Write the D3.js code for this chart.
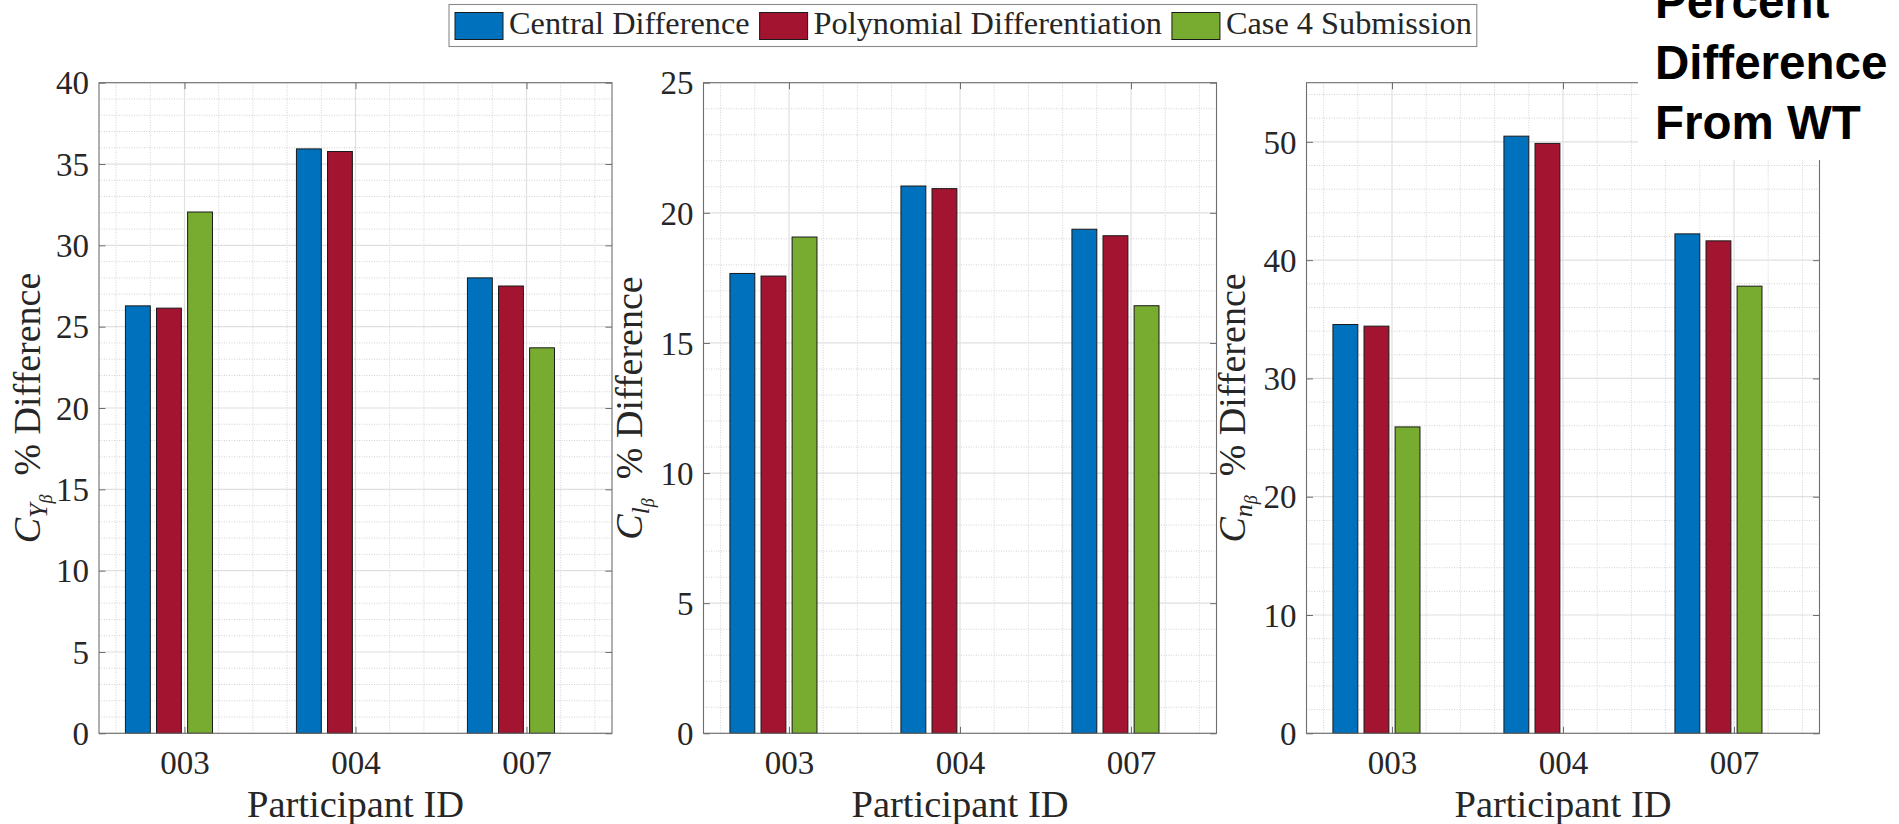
<!DOCTYPE html>
<html><head><meta charset="utf-8">
<script src="https://cdn.jsdelivr.net/npm/d3@7"></script>
<style>body{margin:0;background:#fff} svg{display:block}</style>
</head><body><svg id="c" width="1899" height="824"></svg>
<script>
// ---------------- data ----------------
const participants = ["003", "004", "007"];
const seriesNames = ["Central Difference", "Polynomial Differentiation", "Case 4 Submission"];
const seriesColors = ["#0072BD", "#A2142F", "#77AC30"];

const cyCentral = [26.28, 35.93, 28.00];
const cyPoly    = [26.14, 35.77, 27.50];
const cyCase4   = [32.05, null, 23.70];

const clCentral = [17.67, 21.03, 19.37];
const clPoly    = [17.57, 20.93, 19.12];
const clCase4   = [19.07, null, 16.43];

const cnCentral = [34.56, 50.48, 42.22];
const cnPoly    = [34.42, 49.87, 41.63];
const cnCase4   = [25.90, null, 37.80];

const cyTicks = [0, 5, 10, 15, 20, 25, 30, 35, 40];
const clTicks = [0, 5, 10, 15, 20, 25];
const cnTicks = [0, 10, 20, 30, 40, 50];
const cnMax = 55;

const xLabel = "Participant ID";
const titleLines = ["Percent", "Difference", "From WT"];

// ---------------- layout ----------------
const svg = d3.select("#c");
const serif = "'Liberation Serif','Times New Roman',serif";
const TOP = 82.7, BOTTOM = 733.3, PW = 513;
const slotCount = 4;                 // MATLAB grouping reserves 4 slots (4th empty)
const groupW = slotCount / (slotCount + 1.5);
const slot = groupW / slotCount;
const barW = slot * 0.8;
const tickLen = 6.5;

const panels = [
  {left: 99,    vals: [cyCentral, cyPoly, cyCase4], ticks: cyTicks, max: 40,    minor: 1, sub: "Y", labelX: 40},
  {left: 703.5, vals: [clCentral, clPoly, clCase4], ticks: clTicks, max: 25,    minor: 1, sub: "l", labelX: 642},
  {left: 1306.5,vals: [cnCentral, cnPoly, cnCase4], ticks: cnTicks, max: cnMax, minor: 2, sub: "n", labelX: 1245}
];

panels.forEach(p => {
  const x = d3.scaleLinear().domain([0.5, participants.length + 0.5]).range([p.left, p.left + PW]);
  const y = d3.scaleLinear().domain([0, p.max]).range([BOTTOM, TOP]);
  const g = svg.append("g");

  // minor grid
  const minorY = d3.range(0, p.max + 1e-9, p.minor).filter(v => !p.ticks.includes(v));
  const minorX = d3.range(0.6, participants.length + 0.5, 0.2).map(v => Math.round(v * 10) / 10).filter(v => Math.abs(v - Math.round(v)) > 1e-6);
  g.selectAll(".mny").data(minorY).join("line")
    .attr("x1", x.range()[0]).attr("x2", x.range()[1])
    .attr("y1", d => y(d)).attr("y2", d => y(d))
    .attr("stroke", "#d2d2d2").attr("stroke-width", 1).attr("stroke-dasharray", "1,1.5");
  g.selectAll(".mnx").data(minorX).join("line")
    .attr("x1", d => x(d)).attr("x2", d => x(d))
    .attr("y1", y.range()[0]).attr("y2", y.range()[1])
    .attr("stroke", "#d2d2d2").attr("stroke-width", 1).attr("stroke-dasharray", "1,1.5");
  // major grid
  g.selectAll(".mjy").data(p.ticks).join("line")
    .attr("x1", x.range()[0]).attr("x2", x.range()[1])
    .attr("y1", d => y(d)).attr("y2", d => y(d))
    .attr("stroke", "#e0e0e0").attr("stroke-width", 1.2);
  g.selectAll(".mjx").data(participants.map((d, i) => i + 1)).join("line")
    .attr("x1", d => x(d)).attr("x2", d => x(d))
    .attr("y1", y.range()[0]).attr("y2", y.range()[1])
    .attr("stroke", "#e0e0e0").attr("stroke-width", 1.2);

  // bars
  p.vals.forEach((series, s) => {
    const data = series.map((v, i) => ({v, i})).filter(d => d.v !== null);
    g.selectAll(".bar" + s).data(data).join("rect")
      .attr("x", d => x(d.i + 1 + (s - (slotCount - 1) / 2) * slot - barW / 2))
      .attr("width", x(barW) - x(0))
      .attr("y", d => y(d.v))
      .attr("height", d => y(0) - y(d.v))
      .attr("fill", seriesColors[s])
      .attr("stroke", "#1a1a1a").attr("stroke-width", 1);
  });

  // axes
  const styleAxis = a => {
    a.select(".domain").remove();
    a.selectAll(".tick line").attr("stroke", "#6e6e6e").attr("stroke-width", 1);
    a.selectAll("text").attr("font-family", serif).attr("font-size", 33).attr("fill", "#262626");
  };
  const ax = g.append("g").attr("transform", `translate(0,${BOTTOM})`)
    .call(d3.axisBottom(x).tickValues(participants.map((d, i) => i + 1))
      .tickFormat((d) => participants[d - 1]).tickSize(-tickLen).tickPadding(17));
  styleAxis(ax);
  const axT = g.append("g").attr("transform", `translate(0,${TOP})`)
    .call(d3.axisTop(x).tickValues(participants.map((d, i) => i + 1)).tickFormat("").tickSize(-tickLen));
  styleAxis(axT);
  const ay = g.append("g").attr("transform", `translate(${p.left},0)`)
    .call(d3.axisLeft(y).tickValues(p.ticks).tickFormat(d3.format("d")).tickSize(-tickLen).tickPadding(10));
  styleAxis(ay);
  ay.selectAll("text").attr("dy", "0.34em");
  const ayR = g.append("g").attr("transform", `translate(${p.left + PW},0)`)
    .call(d3.axisRight(y).tickValues(p.ticks).tickFormat("").tickSize(-tickLen));
  styleAxis(ayR);

  // box
  g.append("rect").attr("x", p.left).attr("y", TOP).attr("width", PW).attr("height", BOTTOM - TOP)
    .attr("fill", "none").attr("stroke", "#6e6e6e").attr("stroke-width", 1.1);

  // x label
  g.append("text").attr("x", x(2)).attr("y", 816.7).attr("text-anchor", "middle")
    .attr("font-family", serif).attr("font-size", 38.5).attr("fill", "#262626").text(xLabel);

  // y label
  const yl = g.append("text")
    .attr("transform", `translate(${p.labelX},${(TOP + BOTTOM) / 2}) rotate(-90)`)
    .attr("text-anchor", "middle").attr("font-family", serif).attr("font-size", 38).attr("fill", "#262626");
  yl.append("tspan").attr("font-style", "italic").text("C");
  yl.append("tspan").attr("font-style", "italic").attr("font-size", 26).attr("dy", 7).text(p.sub);
  yl.append("tspan").attr("font-style", "italic").attr("font-size", 18).attr("dy", 5).text("β");
  yl.append("tspan").attr("font-size", 38).attr("dy", -12).text("\u00A0\u00A0% Difference");
});

// overlay title box
svg.append("rect").attr("x", 1638).attr("y", 0).attr("width", 261).attr("height", 160).attr("fill", "#fff");
svg.append("g").selectAll("text").data(titleLines).join("text")
  .attr("x", 1655).attr("y", (d, i) => 18 + i * 60.5)
  .attr("font-family", "'Liberation Sans',Arial,Helvetica,sans-serif")
  .attr("font-weight", "bold").attr("font-size", 47.5).attr("fill", "#000")
  .text(d => d);

// legend
const lg = svg.append("g");
const lbox = lg.append("rect").attr("x", 449).attr("y", 4.5).attr("height", 42)
  .attr("fill", "#fff").attr("stroke", "#8a8a8a").attr("stroke-width", 1.1);
let lx = 455;
seriesNames.forEach((name, i) => {
  lg.append("rect").attr("x", lx).attr("y", 12.5).attr("width", 48).attr("height", 27)
    .attr("fill", seriesColors[i]).attr("stroke", "#1a1a1a").attr("stroke-width", 1);
  const t = lg.append("text").attr("x", lx + 54).attr("y", 33.5)
    .attr("font-family", serif).attr("font-size", 32.3).attr("fill", "#262626").text(name);
  const w = t.node().getComputedTextLength();
  lx = lx + 54 + w + 10;
});
lbox.attr("width", lx - 5 - 449);
</script></body></html>
